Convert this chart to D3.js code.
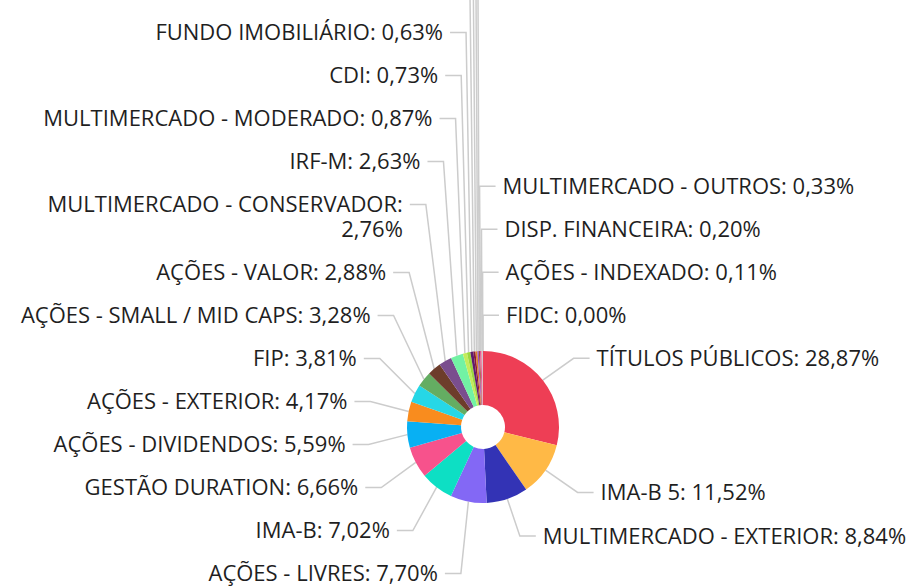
<!DOCTYPE html>
<html>
<head>
<meta charset="utf-8">
<script src="https://cdn.jsdelivr.net/npm/d3@7"></script>
<style>
    body { margin: 0; background: #fff; }
    svg { display: block; }
    text { font-family: "Open Sans", sans-serif; }
</style>
</head>
<body>
<svg id="drawing_region"></svg>
<script>
// slices in clockwise order starting at 12 o'clock
// (null = small slices whose labels fall above the visible area)
const categories = [
    'TÍTULOS PÚBLICOS', 'IMA-B 5', 'MULTIMERCADO - EXTERIOR', 'AÇÕES - LIVRES', 'IMA-B',
    'GESTÃO DURATION', 'AÇÕES - DIVIDENDOS', 'AÇÕES - EXTERIOR', 'FIP', 'AÇÕES - SMALL / MID CAPS',
    'AÇÕES - VALOR', 'MULTIMERCADO - CONSERVADOR', 'IRF-M', 'MULTIMERCADO - MODERADO', 'CDI',
    'FUNDO IMOBILIÁRIO', null, null, null, null,
    'MULTIMERCADO - OUTROS', 'DISP. FINANCEIRA', 'AÇÕES - INDEXADO', 'FIDC'
];
const percents = [
    28.87, 11.52, 8.84, 7.70, 7.02,
    6.66, 5.59, 4.17, 3.81, 3.28,
    2.88, 2.76, 2.63, 0.87, 0.73,
    0.63, 0.45, 0.40, 0.30, 0.25,
    0.33, 0.20, 0.11, 0.00
];
const palette = [
    '#ee3e55', '#ffb946', '#3333b5', '#8368f5', '#0ddfc4',
    '#f7528c', '#08b0f3', '#f98c1e', '#26d7e6', '#64ad62',
    '#6d3d2b', '#7a4e8e', '#72f2a4', '#c3ec5b', '#9cd83f',
    '#5e1b6e', '#8b1a3a', '#d9822b', '#9c4fc8', '#a0522d',
    '#e05a9a', '#f4a582', '#9fb8e8', '#cccccc'
];

class DonutChart {
    constructor (config, data) {
        this.config = {
            parent: config.parent,
            width: config.width || 913,
            height: config.height || 587,
            cx: config.cx,
            cy: config.cy,
            outer_radius: config.outer_radius || 76,
            inner_radius: config.inner_radius || 22,
            label_radius: config.label_radius || 115,
            slot: config.slot || 43,
            line_height: config.line_height || 25,
            font_size: config.font_size || 22,
            wrap_angle: config.wrap_angle || 0,
        };
        this.data = data;
        this.init();
    }

    init() {
        let self = this;
        self.svg = d3.select(self.config.parent)
            .attr('width', self.config.width)
            .attr('height', self.config.height);
        self.chart = self.svg.append('g')
            .attr('transform', `translate(${self.config.cx}, ${self.config.cy})`);
    }

    textWidth(str) {
        let t = this.svg.append('text')
            .style('font-size', this.config.font_size + 'px')
            .text(str);
        let w = t.node().getComputedTextLength();
        t.remove();
        return w;
    }

    update() {
        let self = this;
        const c = self.config;

        self.pie = d3.pie().sort(null).value(d => d.value);
        self.arc = d3.arc().innerRadius(c.inner_radius).outerRadius(c.outer_radius);
        self.arcs = self.pie(self.data);

        let left = [], right = [];
        self.arcs.forEach(a => {
            let mid = (a.startAngle + a.endAngle) / 2;
            a.mid = mid;
            a.right = mid < Math.PI || mid > 2 * Math.PI - c.wrap_angle;
            a.touch = [c.outer_radius * Math.sin(mid), -c.outer_radius * Math.cos(mid)];
            a.bendX = c.label_radius * Math.sin(mid);
            a.target = -c.label_radius * Math.cos(mid);
            a.textX = a.right ? a.bendX + 23 : a.bendX - 23;
            // label text, wrapped if it runs past the edge
            let lines = [];
            if (a.data.label) {
                let full = `${a.data.label}: ${a.data.value.toFixed(2).replace('.', ',')}%`;
                let avail = a.right ? c.width - (c.cx + a.textX) - 2 : c.cx + a.textX - 2;
                let cur = '';
                full.split(' ').forEach(w => {
                    let test = cur ? cur + ' ' + w : w;
                    if (cur && self.textWidth(test) > avail) { lines.push(cur); cur = w; }
                    else cur = test;
                });
                lines.push(cur);
            }
            a.lines = lines;
            a.size = c.slot + Math.max(lines.length - 1, 0) * c.line_height;
            a.w = Math.max(a.data.value, 0.01);
            (a.right ? right : left).push(a);
        });

        const signed = x => x > Math.PI ? x - 2 * Math.PI : x;
        right.sort((p, q) => signed(p.mid) - signed(q.mid));
        left.sort((p, q) => q.mid - p.mid);

        const maxBottom = c.height - c.cy + 8;
        self.distribute(right, maxBottom);
        self.distribute(left, maxBottom);

        self.render();
    }

    distribute(items, maxBottom) {
        let groups = items.map(d => ({ items: [d] }));
        const solve = g => {
            let off = 0, sw = 0, st = 0;
            g.items.forEach(d => {
                d.off = off + d.size / 2;
                sw += d.w;
                st += d.w * (d.target - d.off);
                off += d.size;
            });
            g.size = off;
            g.top = Math.min(st / sw, maxBottom - off);
        };
        groups.forEach(solve);
        let merged = true;
        while (merged) {
            merged = false;
            for (let i = 0; i < groups.length - 1; i++) {
                if (groups[i].top + groups[i].size > groups[i + 1].top + 0.01) {
                    groups[i].items = groups[i].items.concat(groups[i + 1].items);
                    groups.splice(i + 1, 1);
                    solve(groups[i]);
                    merged = true;
                    break;
                }
            }
        }
        groups.forEach(g => g.items.forEach(d => {
            d.labelY = g.top + d.off - Math.max(d.lines.length - 1, 0) * this.config.line_height / 2;
        }));
    }

    render() {
        let self = this;
        const c = self.config;

        self.chart.selectAll('.connector')
            .data(self.arcs)
            .enter()
            .append('polyline')
            .attr('class', 'connector')
            .attr('fill', 'none')
            .attr('stroke', '#cccccc')
            .attr('stroke-width', 1.5)
            .attr('points', d => {
                let endX = d.right ? d.bendX + 16 : d.bendX - 16;
                return [d.touch, [d.bendX, d.labelY], [endX, d.labelY]].map(p => p.join(',')).join(' ');
            });

        self.chart.selectAll('.slice')
            .data(self.arcs)
            .enter()
            .append('path')
            .attr('class', 'slice')
            .attr('d', self.arc)
            .attr('fill', (d, i) => palette[i]);

        let labels = self.chart.selectAll('.label')
            .data(self.arcs.filter(d => d.lines.length))
            .enter()
            .append('text')
            .attr('class', 'label')
            .attr('text-anchor', d => d.right ? 'start' : 'end')
            .style('font-size', c.font_size + 'px')
            .style('fill', '#1f1f1f');

        labels.selectAll('tspan')
            .data(d => d.lines.map((l, i) => ({ l: l, i: i, d: d })))
            .enter()
            .append('tspan')
            .attr('x', t => t.d.textX)
            .attr('y', t => t.d.labelY + t.i * c.line_height)
            .attr('dy', '0.35em')
            .text(t => t.l);
    }
}

const data = categories.map((name, i) => ({ label: name, value: percents[i] }));

const config = {
    parent: '#drawing_region',
    width: 913,
    height: 587,
    cx: 483,
    cy: 427,
    outer_radius: 76,
    inner_radius: 22,
    label_radius: 115,
    slot: 43,
    line_height: 25,
    font_size: 22,
    wrap_angle: 2 * Math.PI / 180,
};

const donut = new DonutChart(config, data);
donut.update();
</script>
</body>
</html>
